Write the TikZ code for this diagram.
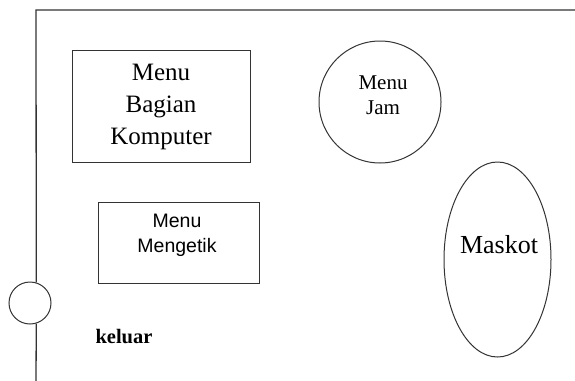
\documentclass[tikz,border=0pt]{standalone}
\usepackage{fontspec}
\setmainfont{Liberation Serif}
\newfontfamily\arialfont{Liberation Sans}
\usetikzlibrary{shapes.geometric}
\begin{document}
\begin{tikzpicture}[x=1pt,y=-1pt,
  shapeline/.style={draw=black!80, line width=1pt, inner sep=0pt},
  boxshape/.style={shapeline, rectangle},
  roundshape/.style={shapeline, circle},
  ovalshape/.style={shapeline, ellipse},
  label/.style={align=center, inner sep=0pt, text=black}]
\useasboundingbox (0,0) rectangle (575,380);
\fill[white] (0,0) rectangle (575,380);
% shapes
\node[boxshape, minimum width=178pt, minimum height=112pt] (komp) at (161,106) {};
\node[boxshape, minimum width=161pt, minimum height=81pt] (ketik) at (178.5,242.5) {};
\node[roundshape, minimum size=122pt] (jam) at (380,102) {};
\node[ovalshape, minimum width=107pt, minimum height=195pt] (maskot) at (497.5,259.5) {};
\node[roundshape, minimum size=42pt] (exit) at (30,303) {};
% frame
\coordinate (ftr) at (576,10);
\coordinate (ftl) at (36,10);
\coordinate (fbot) at (36,381);
\draw[draw=black!80, line width=1.3pt] (ftr) -- (ftl) -- (exit.73.4);
\draw[draw=black!80, line width=1.3pt] (exit.-73.4) -- (fbot);
% texts
\node[label, font=\fontsize{25}{32}\selectfont] (kompt) at (161,107) {Menu\\Bagian\\Komputer};
\node[label, font=\fontsize{21}{25}\selectfont] (jamt) at (383,95) {Menu\\Jam};
\node[label, font=\fontsize{26}{30}\selectfont] (maskott) at (499,245) {Maskot};
\node[label, font=\arialfont\fontsize{19.5}{25}\selectfont] (ketikt) at (177,235.5) {Menu\\Mengetik};
\node[label, font=\bfseries\fontsize{20.5}{25}\selectfont] (exitt) at (124,337) {keluar};
\end{tikzpicture}
\end{document}
